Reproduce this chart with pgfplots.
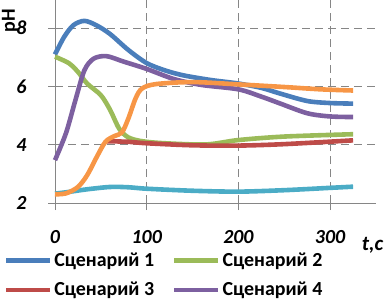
\documentclass[border=0pt]{standalone}
\usepackage{pgfplots}
\pgfplotsset{compat=1.18}
\usepackage{fontspec}
\setmainfont{Carlito}
\definecolor{s1}{HTML}{4A7EBB}
\definecolor{s2}{HTML}{9BBB59}
\definecolor{s3}{HTML}{BE4B48}
\definecolor{s4}{HTML}{7D60A0}
\definecolor{s5}{HTML}{4BACC6}
\definecolor{s6}{HTML}{F79646}
\definecolor{ax}{HTML}{868686}
\begin{document}
\begin{tikzpicture}
\path[use as bounding box] (-55bp,-102bp) rectangle (332bp,203bp);
\begin{axis}[
  at={(0,0)}, anchor=south west,
  scale only axis, width=321bp, height=204bp,
  xmin=0, xmax=350, ymin=2, ymax=9,
  xtick={0,100,200,300}, ytick={2,4,6,8},
  axis x line*=bottom, axis y line*=left,
  axis line style={ax, line width=0.8pt, -},
  tick style={ax, line width=0.8pt},
  tick align=outside, major tick length=7bp,
  grid=major,
  major grid style={ax, line width=0.8pt, dash pattern=on 8bp off 5bp},
  /pgf/number format/assume math mode=true,
  ticklabel style={font=\fontsize{20}{22}\selectfont\bfseries\itshape},
  xticklabel style={yshift=-17bp},
  yticklabel style={xshift=-18bp},
  legend columns=2,
  legend style={draw=none, fill=none, at={(-0.16,-0.235)}, anchor=north west,
    font=\fontsize{20}{22}\selectfont\bfseries, inner sep=0pt,
    /tikz/every even column/.append style={column sep=16bp},
    row sep=10bp},
  legend cell align=left,
  legend image code/.code={\draw[#1, line width=4.5bp] (0bp,0bp) -- (44bp,0bp);},
  every axis plot/.append style={line width=4.6bp, smooth, tension=0.5, no markers},
  clip=false,
]
\addplot[s1] coordinates {(0,7.1) (10,7.7) (20,8.1) (32,8.25) (45,8.1) (60,7.8) (80,7.25) (100,6.8) (120,6.55) (140,6.38) (170,6.22) (200,6.1) (225,5.95) (245,5.76) (275,5.5) (300,5.43) (325,5.41)};
\addplot[s2] coordinates {(0,7.02) (15,6.8) (25,6.5) (35,6.1) (50,5.7) (60,5.2) (70,4.55) (80,4.25) (95,4.12) (120,4.05) (165,4.01) (200,4.16) (250,4.28) (325,4.36)};
\addplot[s3] coordinates {(57,4.12) (80,4.1) (100,4.05) (150,3.98) (200,3.97) (250,4.02) (325,4.15)};
\addplot[s4] coordinates {(0,3.47) (12,4.4) (22,5.5) (32,6.55) (42,6.95) (56,7.04) (75,6.85) (100,6.6) (130,6.25) (160,6.05) (200,5.9) (225,5.65) (245,5.42) (275,5.08) (300,4.97) (325,4.95)};
\addplot[s5] coordinates {(0,2.32) (15,2.38) (35,2.47) (60,2.55) (80,2.54) (100,2.49) (150,2.42) (200,2.39) (250,2.44) (300,2.52) (325,2.56)};
\addplot[s6] coordinates {(0,2.3) (12,2.33) (25,2.55) (35,2.95) (45,3.55) (55,4.1) (65,4.3) (73,4.42) (80,4.9) (88,5.6) (95,5.93) (110,6.08) (150,6.15) (200,6.07) (250,5.98) (290,5.9) (325,5.86)};
\legend{Сценарий 1, Сценарий 2, Сценарий 3, Сценарий 4}
\node[font=\fontsize{21}{23}\selectfont\bfseries\itshape, anchor=west] at (rel axis cs:0.945,-0.205) {t,c};
\node[font=\fontsize{20}{22}\selectfont\bfseries, rotate=90] at (rel axis cs:-0.14,0.895) {pH};
\end{axis}
\end{tikzpicture}
\end{document}
